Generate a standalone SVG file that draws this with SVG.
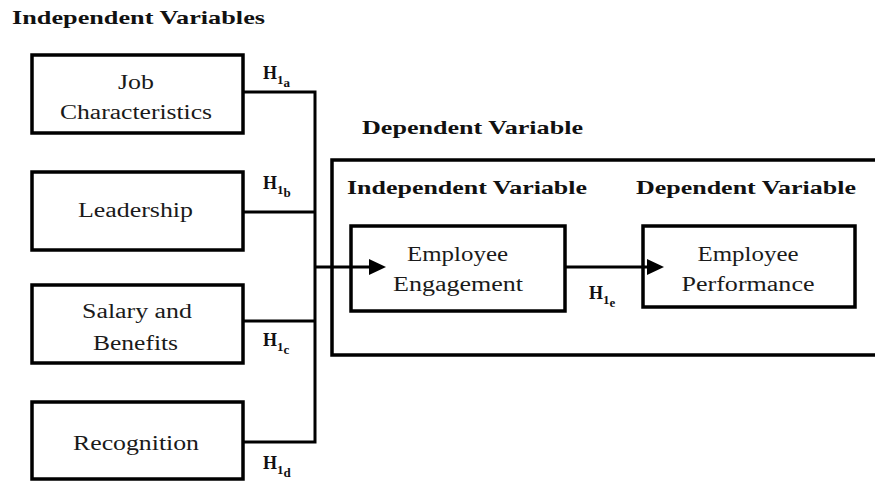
<svg xmlns="http://www.w3.org/2000/svg" width="875" height="482" viewBox="0 0 875 482">
<style>
.box{fill:#fff;stroke:#000;stroke-width:3.5}
.wire{fill:none;stroke:#000;stroke-width:3}
.head{fill:#000;stroke:none}
.t{font-family:"Liberation Serif","Times New Roman","DejaVu Serif",serif;font-size:20px;fill:#1a1a1a;text-anchor:middle}
.h{font-family:"Liberation Serif","Times New Roman","DejaVu Serif",serif;font-size:19px;font-weight:bold;fill:#111}
.hl{font-family:"Liberation Serif","Times New Roman","DejaVu Serif",serif;font-size:18px;font-weight:bold;fill:#111}
.sub{font-size:13px}
</style>
<rect width="875" height="482" fill="#fff"/>
<text class="h" x="12" y="24" textLength="253" lengthAdjust="spacingAndGlyphs">Independent Variables</text>
<text class="h" x="362" y="134" textLength="221" lengthAdjust="spacingAndGlyphs">Dependent Variable</text>

<g id="outer">
<rect class="box" x="332" y="160" width="560" height="195"/>
<text class="h" x="347" y="194" textLength="240" lengthAdjust="spacingAndGlyphs">Independent Variable</text>
<text class="h" x="636" y="194" textLength="220" lengthAdjust="spacingAndGlyphs">Dependent Variable</text>
</g>

<g id="job">
<rect class="box" x="32" y="55" width="211" height="78"/>
<text class="t" x="136" y="89" textLength="36" lengthAdjust="spacingAndGlyphs">Job</text>
<text class="t" x="136" y="119" textLength="152" lengthAdjust="spacingAndGlyphs">Characteristics</text>
</g>
<g id="leadership">
<rect class="box" x="32" y="172" width="211" height="78"/>
<text class="t" x="135.5" y="217" textLength="115" lengthAdjust="spacingAndGlyphs">Leadership</text>
</g>
<g id="salary">
<rect class="box" x="32" y="285" width="211" height="78"/>
<text class="t" x="137" y="318" textLength="110" lengthAdjust="spacingAndGlyphs">Salary and</text>
<text class="t" x="135.5" y="350" textLength="85" lengthAdjust="spacingAndGlyphs">Benefits</text>
</g>
<g id="recognition">
<rect class="box" x="32" y="402" width="211" height="77"/>
<text class="t" x="136" y="450" textLength="126" lengthAdjust="spacingAndGlyphs">Recognition</text>
</g>
<g id="engagement">
<rect class="box" x="351" y="226" width="214" height="85"/>
<text class="t" x="457.5" y="261" textLength="101" lengthAdjust="spacingAndGlyphs">Employee</text>
<text class="t" x="458" y="291" textLength="130" lengthAdjust="spacingAndGlyphs">Engagement</text>
</g>
<g id="performance">
<rect class="box" x="643" y="226" width="212" height="81"/>
<text class="t" x="748" y="261" textLength="101" lengthAdjust="spacingAndGlyphs">Employee</text>
<text class="t" x="748" y="291" textLength="133" lengthAdjust="spacingAndGlyphs">Performance</text>
</g>

<g id="connectors">
<polyline class="wire" points="243,92 315,92 315,442 243,442"/>
<line class="wire" x1="243" y1="212" x2="315" y2="212"/>
<line class="wire" x1="243" y1="321" x2="315" y2="321"/>
<line class="wire" x1="315" y1="267" x2="372" y2="267"/>
<path class="head" d="M369,259 L386,267 L369,275 z"/>
<line class="wire" x1="565" y1="267" x2="650" y2="267"/>
<path class="head" d="M647,259 L664,267 L647,275 z"/>
</g>

<g id="labels">
<text class="hl" x="263" y="79">H<tspan class="sub" dy="5">1</tspan><tspan class="sub" dy="3">a</tspan></text>
<text class="hl" x="263" y="189">H<tspan class="sub" dy="5">1</tspan><tspan class="sub" dy="3">b</tspan></text>
<text class="hl" x="263" y="346">H<tspan class="sub" dy="5">1</tspan><tspan class="sub" dy="3">c</tspan></text>
<text class="hl" x="263" y="469">H<tspan class="sub" dy="5">1</tspan><tspan class="sub" dy="3">d</tspan></text>
<text class="hl" x="589" y="299">H<tspan class="sub" dy="5">1</tspan><tspan class="sub" dy="3">e</tspan></text>
</g>
</svg>
